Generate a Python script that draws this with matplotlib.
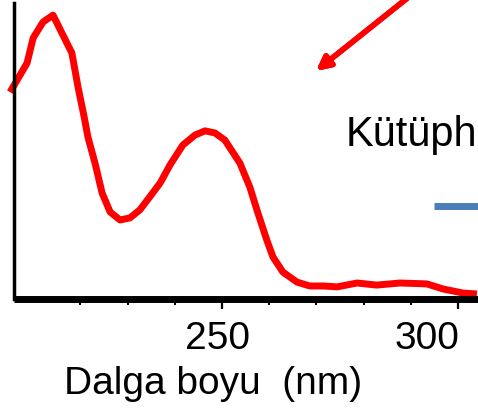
import matplotlib
matplotlib.use("Agg")
import matplotlib.pyplot as plt
from matplotlib.lines import Line2D

plt.rcParams['font.family'] = ['Liberation Sans', 'DejaVu Sans']

# UV absorption spectrum (wavelength in nm, absorbance in arbitrary units)
wavelength = [205.1, 208.7, 210.0, 212.1, 214.2, 218.2, 219.5, 220.8, 221.6,
              223.1, 224.6, 226.3, 228.4, 230.5, 232.6, 234.7, 236.9, 239.0,
              241.7, 244.3, 246.4, 248.5, 250.6, 253.8, 255.9, 257.6, 259.5,
              260.8, 262.9, 265.9, 268.6, 271.4, 274.4, 278.6, 282.8, 287.7,
              293.4, 296.8, 301.1, 304.0]
absorbance = [0.699, 0.797, 0.882, 0.936, 0.959, 0.831, 0.716, 0.615, 0.547,
              0.459, 0.358, 0.294, 0.267, 0.274, 0.301, 0.345, 0.392, 0.453,
              0.520, 0.554, 0.568, 0.561, 0.537, 0.459, 0.378, 0.291, 0.199,
              0.142, 0.091, 0.057, 0.044, 0.044, 0.041, 0.054, 0.047, 0.054,
              0.051, 0.034, 0.020, 0.017]

major_ticks = [250, 300]
major_labels = ["250", "300"]
minor_ticks = [220, 230, 240, 260, 270, 280, 290]
x_title = "Dalga boyu  (nm)"
legend_text = "Kütüph"

W, H = 478, 413
fig = plt.figure(figsize=(W / 100, H / 100), dpi=100)

# axes: left spine at x=13.5 px, bottom spine at y=299 px, extends past right edge
x_left, x_right = 205.83, 310.0
px_per_nm = 4.72
ax_w = (x_right - x_left) * px_per_nm
ax = fig.add_axes([13.5 / W, (H - 299) / H, ax_w / W, 296 / H])
ax.set_xlim(x_left, x_right)
ax.set_ylim(0, 1)

ax.plot(wavelength, absorbance, color='#ff0000', lw=5, clip_on=False,
        solid_joinstyle='round', solid_capstyle='butt')

for side in ('top', 'right'):
    ax.spines[side].set_visible(False)
ax.spines['left'].set_linewidth(2.5)
ax.spines['bottom'].set_linewidth(5)
ax.spines['bottom'].set_capstyle('butt')
ax.set_yticks([])

ax.set_xticks(major_ticks)
ax.set_xticklabels([])
ax.set_xticks(minor_ticks, minor=True)
ax.tick_params(axis='x', which='major', direction='out', length=7.2, width=1.6)
ax.tick_params(axis='x', which='minor', direction='out', length=4.3, width=1.5)

# tick labels, placed under their ticks
label_shift_pt = [-3.2, -22.3]
for val, txt, dx in zip(major_ticks, major_labels, label_shift_pt):
    ax.annotate(txt, xy=(val, 0), xycoords=('data', 'axes fraction'),
                xytext=(dx, -36.2), textcoords='offset points',
                ha='center', va='baseline', fontsize=28, color='black',
                annotation_clip=False)

fig.text(213.5 / W, (H - 394) / H, x_title, ha='center', va='baseline',
         fontsize=28, color='black')

# legend-like entry, cut by the figure edge
fig.text(346 / W, (H - 146) / H, legend_text, ha='left', va='baseline',
         fontsize=30, color='black')
fig.add_artist(Line2D([434 / W, 1.02], [(H - 205.5) / H] * 2,
                      transform=fig.transFigure, color='#4a7ebb', lw=5,
                      solid_capstyle='butt'))

# pointer arrow coming in from the top
fig.add_artist(plt.annotate('', xy=(316 / W, (H - 71) / H),
                            xytext=(430 / W, (H + 20) / H),
                            xycoords='figure fraction',
                            textcoords='figure fraction',
                            arrowprops=dict(arrowstyle='-|>,head_length=0.8,head_width=0.4',
                                            color='#ff0000', lw=4,
                                            shrinkA=0, shrinkB=0),
                            annotation_clip=False))

fig.savefig('out.png', dpi=100)
